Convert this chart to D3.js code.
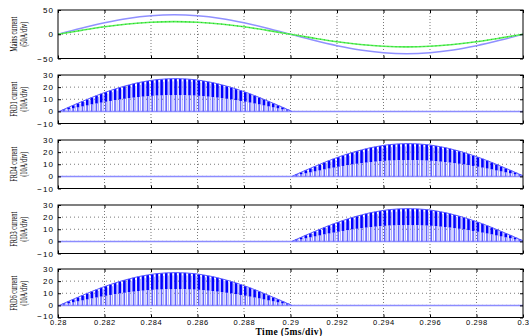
<!DOCTYPE html>
<html>
<head>
<meta charset="utf-8">
<script src="https://cdn.jsdelivr.net/npm/d3@7"></script>
<style>
  body { margin: 0; background: #fff; }
  svg { display: block; }
</style>
</head>
<body>
<svg id="chart" width="529" height="336"></svg>
<script>
// time axis (s)
const timeTicks = [0.28, 0.282, 0.284, 0.286, 0.288, 0.29, 0.292, 0.294, 0.296, 0.298, 0.3];
const timeTickLabels = ['0.28', '0.282', '0.284', '0.286', '0.288', '0.29', '0.292', '0.294', '0.296', '0.298', '0.3'];

// mains current, sampled every 1 ms
const mainsTime = [0.28, 0.281, 0.282, 0.283, 0.284, 0.285, 0.286, 0.287, 0.288, 0.289, 0.29,
  0.291, 0.292, 0.293, 0.294, 0.295, 0.296, 0.297, 0.298, 0.299, 0.3];
const mainsBlue = [0, 12.4, 23.5, 32.4, 38.0, 40, 38.0, 32.4, 23.5, 12.4, 0,
  -12.4, -23.5, -32.4, -38.0, -40, -38.0, -32.4, -23.5, -12.4, 0];
const mainsGreen = [0, 8.0, 15.3, 21.0, 24.7, 26, 24.7, 21.0, 15.3, 8.0, 0,
  -8.0, -15.3, -21.0, -24.7, -26, -24.7, -21.0, -15.3, -8.0, 0];

// FRD current: peak of each switching pulse over a conducting half cycle (0.2 ms period)
const pulsePeriod = 0.0002;
const pulsePeaks = [0, 1.7, 3.4, 5.1, 6.7, 8.3, 9.9, 11.5, 13.0, 14.5, 15.9, 17.2, 18.5, 19.7,
  20.8, 21.8, 22.8, 23.7, 24.4, 25.1, 25.7, 26.2, 26.5, 26.8, 26.9, 27.0, 26.9, 26.8, 26.5, 26.2,
  25.7, 25.1, 24.4, 23.7, 22.8, 21.8, 20.8, 19.7, 18.5, 17.2, 15.9, 14.5, 13.0, 11.5, 9.9, 8.3,
  6.7, 5.1, 3.4, 1.7, 0];
const pulseLowRatio = 0.5;

// panels
const panelLabels = [
  ['Mains current', '(50A/div)'],
  ['FRD1 current', '(10A/div)'],
  ['FRD4 current', '(10A/div)'],
  ['FRD3 current', '(10A/div)'],
  ['FRD6 current', '(10A/div)']
];
const mainsTicks = [-50, 0, 50];
const frdTicks = [-10, 0, 10, 20, 30];
const frdConductStart = [0.28, 0.29, 0.29, 0.28]; // FRD1, FRD4, FRD3, FRD6

const svg = d3.select('#chart');
const left = 58, right = 523;
const panelTop = [10, 75, 140, 205, 269];
const panelH = 48.5;

const x = d3.scaleLinear().domain([0.28, 0.3]).range([left, right]);

const tickFont = 'Liberation Sans, Arial, sans-serif';

function drawGrid(g, y, yTicks) {
  const h = panelH;
  g.selectAll('line.vg').data(timeTicks.slice(1, -1)).join('line')
    .attr('class', 'vg')
    .attr('x1', d => x(d)).attr('x2', d => x(d))
    .attr('y1', 0).attr('y2', h)
    .attr('stroke', '#555').attr('stroke-width', 0.8)
    .attr('stroke-dasharray', '1,2');
  g.selectAll('line.hg').data(yTicks.slice(1, -1)).join('line')
    .attr('class', 'hg')
    .attr('x1', left).attr('x2', right)
    .attr('y1', d => y(d)).attr('y2', d => y(d))
    .attr('stroke', '#555').attr('stroke-width', 0.8)
    .attr('stroke-dasharray', '1,3');
}

function drawAxes(g, y, yTicks, isLast) {
  const h = panelH;
  const yAxis = g.append('g')
    .attr('transform', `translate(${left},0)`)
    .call(d3.axisLeft(y).tickValues(yTicks).tickSize(-3).tickPadding(4).tickFormat(d3.format('d')));
  yAxis.select('.domain').remove();
  yAxis.selectAll('.tick line').attr('stroke', '#000');
  yAxis.selectAll('.tick text')
    .attr('fill', '#000')
    .style('font-family', tickFont)
    .style('font-size', '8px')
    .style('letter-spacing', '1.1px');
  if (isLast) {
    // lift the bottom label a bit so it clears the time labels
    yAxis.selectAll('.tick text').filter(d => d === yTicks[0]).attr('dy', '0.1em');
  }

  const yAxisR = g.append('g')
    .attr('transform', `translate(${right},0)`)
    .call(d3.axisRight(y).tickValues(yTicks).tickSize(-3).tickFormat(''));
  yAxisR.select('.domain').remove();
  yAxisR.selectAll('.tick line').attr('stroke', '#000');

  const xTop = g.append('g')
    .call(d3.axisTop(x).tickValues(timeTicks).tickSize(-3).tickFormat(''));
  xTop.select('.domain').remove();
  xTop.selectAll('.tick line').attr('stroke', '#000');

  const xBot = g.append('g')
    .attr('transform', `translate(0,${h})`)
    .call(d3.axisBottom(x).tickValues(timeTicks).tickSize(-3).tickPadding(2)
      .tickFormat((d, i) => isLast ? timeTickLabels[i] : ''));
  xBot.select('.domain').remove();
  xBot.selectAll('.tick line').attr('stroke', '#000');
  xBot.selectAll('.tick text')
    .attr('fill', '#000')
    .style('font-family', tickFont)
    .style('font-size', '7.5px')
    .style('letter-spacing', '0.6px');

  // box
  g.append('rect')
    .attr('x', left).attr('y', 0)
    .attr('width', right - left).attr('height', h)
    .attr('fill', 'none')
    .attr('stroke', '#000')
    .attr('stroke-width', 1);
}

function drawYLabel(g, lines) {
  const cy = panelH / 2;
  const lens = [35, 25];
  const xs = [15, 25];
  lines.forEach((t, i) => {
    g.append('text')
      .attr('transform', `translate(${xs[i]},${cy}) rotate(-90)`)
      .attr('text-anchor', 'middle')
      .attr('dominant-baseline', 'middle')
      .attr('textLength', lens[i])
      .attr('lengthAdjust', 'spacingAndGlyphs')
      .attr('fill', '#000')
      .style('font-family', 'Liberation Serif, Times New Roman, serif')
      .style('font-size', '9.5px')
      .text(t);
  });
}

panelLabels.forEach((lbl, p) => {
  const g = svg.append('g').attr('transform', `translate(0,${panelTop[p]})`);
  const isMains = p === 0;
  const yTicks = isMains ? mainsTicks : frdTicks;
  const y = d3.scaleLinear()
    .domain([yTicks[0], yTicks[yTicks.length - 1]])
    .range([panelH, 0]);

  const clipId = 'clip' + p;
  g.append('clipPath').attr('id', clipId)
    .append('rect').attr('x', left).attr('y', 0)
    .attr('width', right - left).attr('height', panelH);

  drawGrid(g, y, yTicks);
  const plot = g.append('g').attr('clip-path', `url(#${clipId})`);

  if (isMains) {
    const line = d3.line().x(d => x(d[0])).y(d => y(d[1])).curve(d3.curveCatmullRom);
    plot.append('path')
      .datum(mainsTime.map((t, i) => [t, mainsBlue[i]]))
      .attr('fill', 'none')
      .attr('stroke', '#9090ff')
      .attr('stroke-width', 1.5)
      .attr('d', line);
    plot.append('path')
      .datum(mainsTime.map((t, i) => [t, mainsGreen[i]]))
      .attr('fill', 'none')
      .attr('stroke', '#5cf05c')
      .attr('stroke-width', 1.6)
      .attr('d', line);
    plot.append('path')
      .datum(mainsTime.map((t, i) => [t, mainsGreen[i]]))
      .attr('fill', 'none')
      .attr('stroke', '#22c822')
      .attr('stroke-width', 1)
      .attr('stroke-dasharray', '1,3')
      .attr('d', line);
  } else {
    const start = frdConductStart[p - 1];
    const pulses = pulsePeaks.map((v, k) => ({ t: start + k * pulsePeriod, v }));
    const step = x(start + pulsePeriod) - x(start);

    // zero line
    plot.append('line')
      .attr('x1', left).attr('x2', right)
      .attr('y1', y(0)).attr('y2', y(0))
      .attr('stroke', '#8c8cff')
      .attr('stroke-width', 1.5);

    // light stripe in the gap of each period
    plot.selectAll('line.gap').data(pulses).join('line')
      .attr('class', 'gap')
      .attr('x1', d => x(d.t) + step * 0.72).attr('x2', d => x(d.t) + step * 0.72)
      .attr('y1', y(0))
      .attr('y2', d => y(d.v * 0.92))
      .attr('stroke', '#a4a4ff')
      .attr('stroke-width', 1);

    // lower light part of each pulse
    plot.selectAll('line.low').data(pulses).join('line')
      .attr('class', 'low')
      .attr('x1', d => x(d.t) + 1.2).attr('x2', d => x(d.t) + 1.2)
      .attr('y1', y(0))
      .attr('y2', d => y(d.v * pulseLowRatio))
      .attr('stroke', '#6464ff')
      .attr('stroke-width', 1.6);

    // upper dark part of each pulse
    plot.selectAll('rect.high').data(pulses).join('rect')
      .attr('class', 'high')
      .attr('x', d => x(d.t))
      .attr('y', d => y(d.v))
      .attr('width', 2.6)
      .attr('height', d => y(d.v * pulseLowRatio) - y(d.v))
      .attr('fill', '#0000ff');

    // envelope
    plot.append('path')
      .datum(pulses)
      .attr('fill', 'none')
      .attr('stroke', '#5a5aff')
      .attr('stroke-width', 1)
      .attr('d', d3.line().x(d => x(d.t) + 1.3).y(d => y(d.v)));
  }

  drawAxes(g, y, yTicks, p === panelLabels.length - 1);
  drawYLabel(g, lbl);
});

svg.append('text')
  .attr('x', 289)
  .attr('y', 335)
  .attr('text-anchor', 'middle')
  .attr('fill', '#000')
  .style('font-family', 'Liberation Serif, Times New Roman, serif')
  .style('font-size', '9.5px')
  .style('font-weight', 'bold')
  .style('letter-spacing', '0.4px')
  .text('Time (5ms/div)');
</script>
</body>
</html>
